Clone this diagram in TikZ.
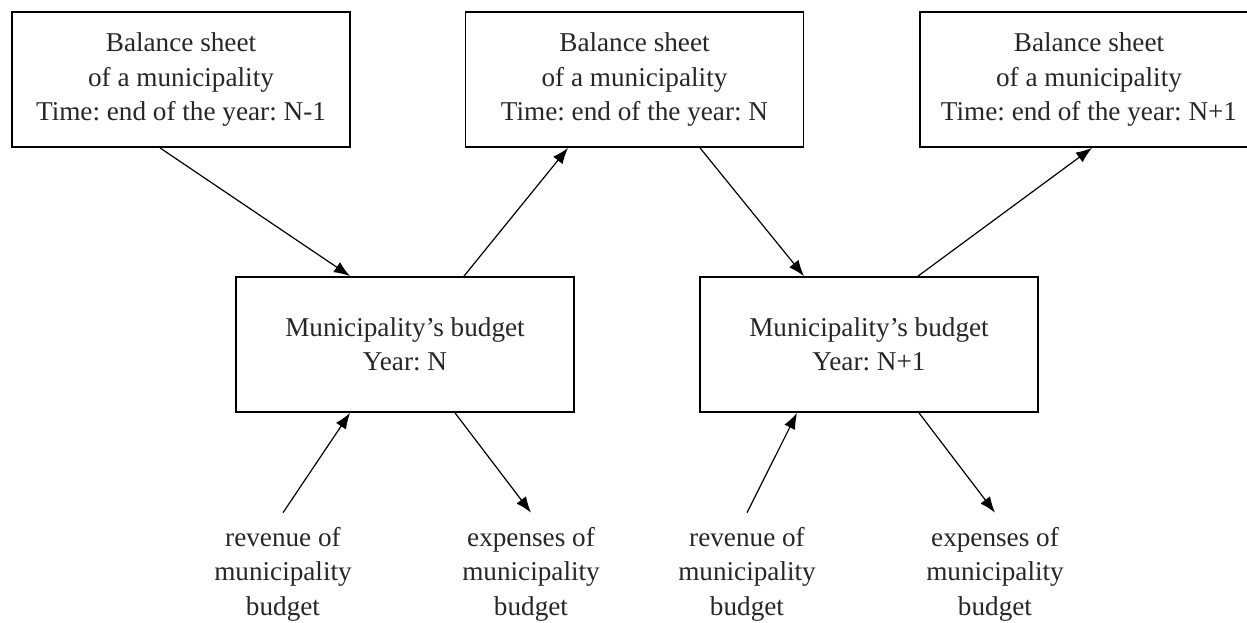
\documentclass[tikz,border=0pt]{standalone}
\usepackage{fontspec}
\setmainfont{Liberation Serif}
\usetikzlibrary{arrows.meta,calc}
\frenchspacing

\begin{document}
\begin{tikzpicture}[x=0.5pt,y=-0.5pt,
        every node/.style = {font=\fontsize{13.6}{17.2}\selectfont, text=black!85},
        box/.style = {draw, line width=0.9pt, minimum width=169pt, minimum height=67.5pt, align=center, inner sep=0pt},
        flow/.style = {-{Latex[length=8pt,width=6pt]}, line width=0.6pt},
        item/.style = {align=center, inner sep=7pt}]
    \useasboundingbox (0,0) rectangle (1247,622);
    \node[box] (bs1) at (181,79.5) {Balance sheet\\of a municipality\\Time: end of the year: N-1};
    \node[box] (bs2) at (634.5,79.5) {Balance sheet\\of a municipality\\Time: end of the year: N};
    \node[box] (bs3) at (1089,79.5) {Balance sheet\\of a municipality\\Time: end of the year: N+1};
    \node[box] (bud1) at (405,344.5) {Municipality's budget\\Year: N};
    \node[box] (bud2) at (869,344.5) {Municipality's budget\\Year: N+1};
    \node[item] (rev1) at (283,574) {revenue of\\municipality\\budget};
    \node[item] (exp1) at (531,574) {expenses of\\municipality\\budget};
    \node[item] (rev2) at (747,574) {revenue of\\municipality\\budget};
    \node[item] (exp2) at (995,574) {expenses of\\municipality\\budget};
    \draw[flow] ($(bs1.south)+(-21,0)$) -- ($(bud1.north)+(-55,0)$);
    \draw[flow] ($(bud1.north)+(59,0)$) -- ($(bs2.south)+(-66.5,0)$);
    \draw[flow] ($(bs2.south)+(65.5,0)$) -- ($(bud2.north)+(-65,0)$);
    \draw[flow] ($(bud2.north)+(49,0)$) -- ($(bs3.south)+(3,0)$);
    \draw[flow] (rev1.north) -- ($(bud1.south)+(-55,0)$);
    \draw[flow] ($(bud1.south)+(50,0)$) -- (exp1.north);
    \draw[flow] (rev2.north) -- ($(bud2.south)+(-72,0)$);
    \draw[flow] ($(bud2.south)+(50,0)$) -- (exp2.north);
\end{tikzpicture}
\end{document}
